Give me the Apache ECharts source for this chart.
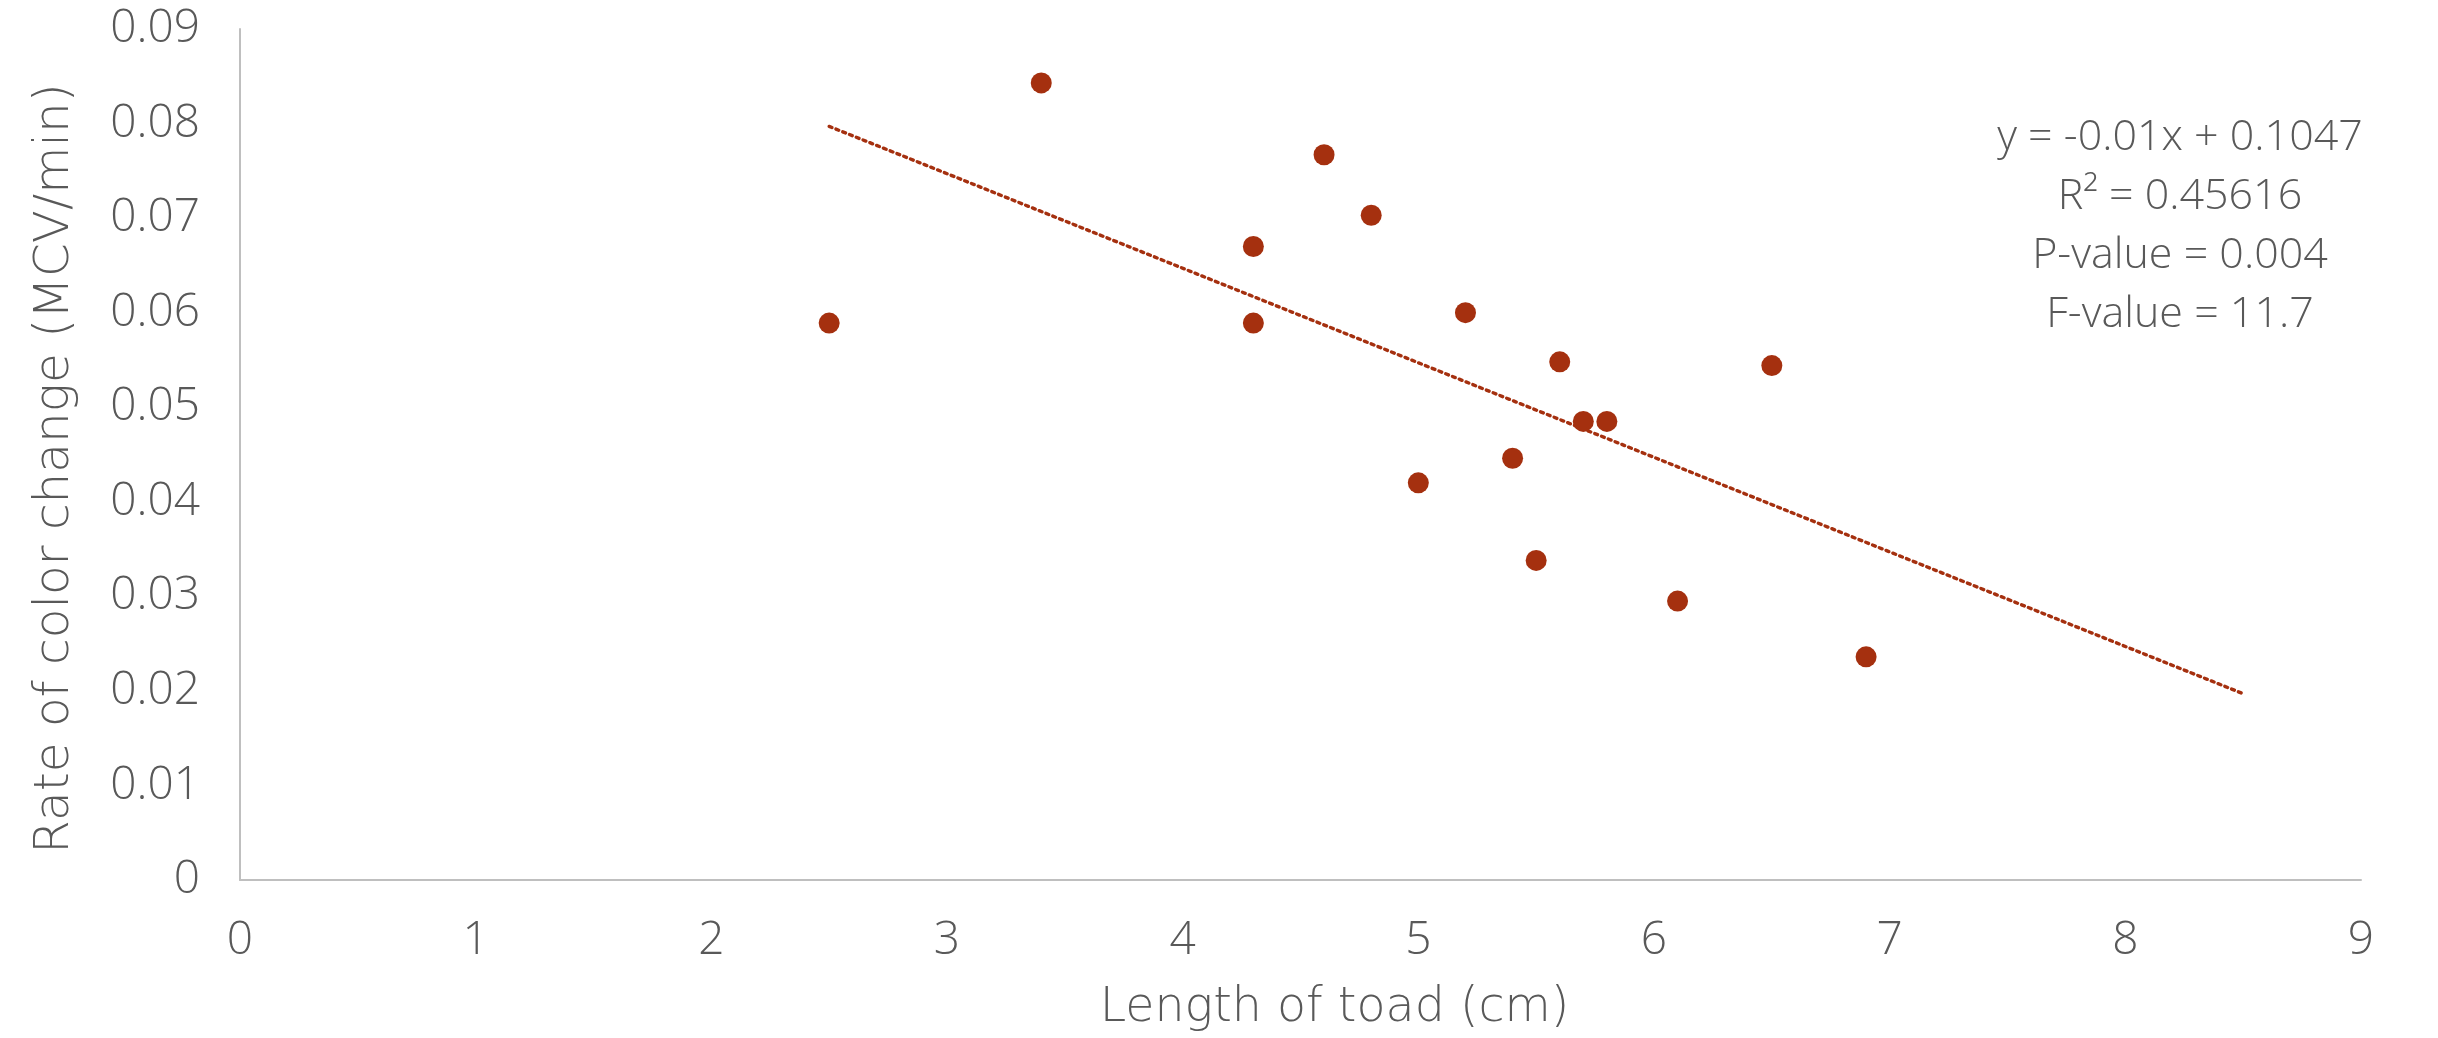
<!DOCTYPE html>
<html>
<head>
<meta charset="utf-8">
<script src="https://cdn.jsdelivr.net/npm/echarts@6/dist/echarts.min.js"></script>
<style>
html,body{margin:0;padding:0;background:#fff;}
#chart{width:2438px;height:1038px;}
</style>
</head>
<body>
<div id="chart"></div>
<script>
// Data
const lengthCm = [2.5, 3.4, 4.3, 4.3, 4.6, 4.8, 5.0, 5.2, 5.4, 5.5, 5.6, 5.7, 5.8, 6.1, 6.5, 6.9];
const colorRate = [0.0589, 0.0843, 0.0670, 0.0589, 0.0767, 0.0703, 0.0420, 0.0600, 0.0446, 0.0338, 0.0548, 0.0485, 0.0485, 0.0295, 0.0544, 0.0236];
const trendX = [2.5, 8.5];
const trendY = [0.0797, 0.0197];
const xTickLabels = ['0','1','2','3','4','5','6','7','8','9'];
const yTickLabels = ['0','0.01','0.02','0.03','0.04','0.05','0.06','0.07','0.08','0.09'];
const statsLines = ['y = -0.01x + 0.1047', 'R\u00B2 = 0.45616', 'P-value = 0.004', 'F-value = 11.7'];

const FONT = 'Open Sans';
const TITLE_FONT = 'DejaVu Sans';
const TEXT = '#595959';
const RED = '#A5300F';

const chart = echarts.init(document.getElementById('chart'), null, {renderer: 'canvas'});
chart.setOption({
  animation: false,
  backgroundColor: '#ffffff',
  grid: {left: 240, right: 77, top: 29, bottom: 156, containLabel: false},
  xAxis: {
    type: 'value', min: 0, max: 9, interval: 1,
    name: 'Length of toad (cm)', nameLocation: 'middle', nameGap: 105,
    nameTextStyle: {fontFamily: TITLE_FONT, fontWeight: 200, fontSize: 47.5, color: TEXT, padding: [0, 0, 0, 68]},
    axisLine: {show: true, lineStyle: {color: '#BFBFBF', width: 2}},
    axisTick: {show: false},
    splitLine: {show: false},
    axisLabel: {fontFamily: FONT, fontWeight: 300, fontSize: 46, color: TEXT, margin: 38,
      formatter: v => xTickLabels[Math.round(v)]}
  },
  yAxis: {
    type: 'value', min: 0, max: 0.09, interval: 0.01,
    name: 'Rate of color change (MCV/min)', nameLocation: 'middle', nameGap: 160,
    nameTextStyle: {fontFamily: TITLE_FONT, fontWeight: 200, fontSize: 48.5, color: TEXT, padding: [0, 28, 0, 0]},
    axisLine: {show: true, lineStyle: {color: '#BFBFBF', width: 2}},
    axisTick: {show: false},
    splitLine: {show: false},
    axisLabel: {fontFamily: FONT, fontWeight: 300, fontSize: 46, color: TEXT, margin: 40,
      formatter: v => yTickLabels[Math.round(v / 0.01)]}
  },
  series: [
    {
      type: 'line',
      data: trendX.map((x, i) => [x, trendY[i]]),
      showSymbol: false,
      symbol: 'none',
      lineStyle: {color: RED, width: 3.4, type: [3, 4.3], cap: 'round', opacity: 1},
      z: 1
    },
    {
      type: 'scatter',
      data: lengthCm.map((x, i) => [x, colorRate[i]]),
      symbol: 'circle',
      symbolSize: 21,
      itemStyle: {color: RED, opacity: 1},
      z: 2
    }
  ],
  graphic: statsLines.map((t, i) => ({
    type: 'text',
    x: 2180, y: 138 + i * 59,
    style: {text: t, fontFamily: FONT, fontWeight: 300, fontSize: 43, fill: TEXT,
      textAlign: 'center', textVerticalAlign: 'middle', verticalAlign: 'middle', align: 'center'}
  }))
});
</script>
</body>
</html>
